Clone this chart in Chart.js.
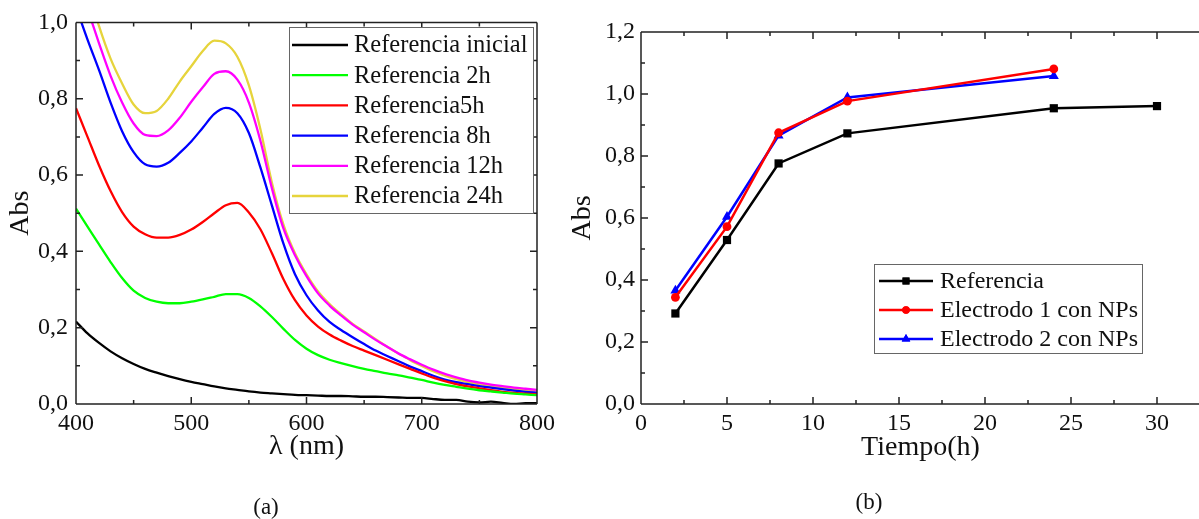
<!DOCTYPE html>
<html lang="es">
<head>
<meta charset="utf-8">
<title>Absorbancia</title>
<script src="https://cdn.jsdelivr.net/npm/chart.js@4.4.1/dist/chart.umd.min.js"></script>
<style>
  html, body { margin: 0; padding: 0; background: #fff; }
  body { width: 1199px; height: 519px; overflow: hidden; position: relative; font-family: "Liberation Serif", serif; }
  #specChart { position: absolute; left: 0; top: 0; }
  #timeChart { position: absolute; left: 560px; top: 0; }
  .caption { position: absolute; font-size: 23px; color: #111; transform: translate(-50%, -50%); }
</style>
</head>
<body>
<canvas id="specChart" width="560" height="519"></canvas>
<canvas id="timeChart" width="660" height="519"></canvas>
<div class="caption" style="left:266px; top:507px">(a)</div>
<div class="caption" style="left:869px; top:502px">(b)</div>
<script>
/* --------------- Spectra (a) --------------------- */
const wavelengths = [400, 410, 420, 430, 440, 450, 460, 470, 480, 490, 500, 510, 520, 530, 540, 550, 560, 570, 580, 590,
  600, 610, 620, 630, 640, 650, 660, 670, 680, 690, 700, 710, 720, 730, 740, 750, 760, 770, 780, 790, 800];

const absInicial = [0.216, 0.185, 0.160, 0.138, 0.120, 0.105, 0.092, 0.082, 0.073, 0.065, 0.058, 0.052, 0.046, 0.041,
  0.037, 0.033, 0.030, 0.028, 0.026, 0.024, 0.023, 0.022, 0.021, 0.021, 0.020, 0.019, 0.019, 0.018, 0.017, 0.016,
  0.016, 0.013, 0.011, 0.011, 0.006, 0.004, 0.006, 0.003, 0.000, 0.002, 0.002];
const abs2h = [0.512, 0.465, 0.418, 0.372, 0.330, 0.297, 0.278, 0.268, 0.264, 0.264, 0.268, 0.274, 0.281, 0.288,
  0.288, 0.278, 0.256, 0.228, 0.197, 0.168, 0.145, 0.128, 0.116, 0.107, 0.099, 0.092, 0.086, 0.080, 0.075, 0.069,
  0.063, 0.056, 0.050, 0.045, 0.040, 0.036, 0.033, 0.030, 0.027, 0.025, 0.023];
const abs5h = [0.775, 0.700, 0.625, 0.558, 0.503, 0.465, 0.445, 0.436, 0.436, 0.443, 0.457, 0.477, 0.500, 0.521,
  0.527, 0.502, 0.458, 0.395, 0.327, 0.272, 0.232, 0.203, 0.182, 0.166, 0.152, 0.140, 0.128, 0.116, 0.104, 0.092,
  0.080, 0.069, 0.060, 0.052, 0.046, 0.041, 0.036, 0.032, 0.029, 0.027, 0.025];
const abs8h = [1.040, 0.955, 0.875, 0.790, 0.715, 0.660, 0.628, 0.622, 0.632, 0.658, 0.688, 0.724, 0.760, 0.776,
  0.762, 0.710, 0.620, 0.520, 0.420, 0.340, 0.285, 0.245, 0.215, 0.194, 0.175, 0.157, 0.140, 0.126, 0.112, 0.098,
  0.086, 0.074, 0.064, 0.057, 0.052, 0.047, 0.043, 0.039, 0.035, 0.032, 0.030];
const abs12h = [1.120, 1.035, 0.945, 0.860, 0.790, 0.735, 0.705, 0.702, 0.717, 0.750, 0.792, 0.830, 0.865, 0.872,
  0.850, 0.790, 0.690, 0.565, 0.460, 0.390, 0.335, 0.290, 0.258, 0.232, 0.208, 0.188, 0.168, 0.150, 0.132, 0.117,
  0.103, 0.090, 0.079, 0.070, 0.062, 0.056, 0.051, 0.047, 0.043, 0.040, 0.037];
const abs24h = [1.200, 1.090, 0.990, 0.905, 0.840, 0.785, 0.762, 0.768, 0.800, 0.845, 0.885, 0.925, 0.952, 0.945,
  0.910, 0.835, 0.720, 0.580, 0.470, 0.395, 0.340, 0.295, 0.262, 0.235, 0.210, 0.190, 0.170, 0.150, 0.132, 0.115,
  0.100, 0.086, 0.074, 0.065, 0.058, 0.052, 0.047, 0.043, 0.040, 0.037, 0.034];

const spectraLabels = ["Referencia inicial", "Referencia 2h", "Referencia5h", "Referencia 8h", "Referencia 12h", "Referencia 24h"];
const spectraSeries = [absInicial, abs2h, abs5h, abs8h, abs12h, abs24h];
const spectraColors = ["#000000", "#00ff00", "#ff0000", "#0000ff", "#ff00ff", "#e6d43c"];

/* --------------- Absorbance vs time (b) --------------------- */
const hoursRef = [2, 5, 8, 12, 24, 30];
const absRef = [0.292, 0.529, 0.776, 0.873, 0.954, 0.961];
const hoursNP = [2, 5, 8, 12, 24];
const absElectrodo1 = [0.344, 0.572, 0.875, 0.977, 1.081];
const absElectrodo2 = [0.366, 0.604, 0.866, 0.989, 1.058];
const timeLabels = ["Referencia", "Electrodo 1 con NPs", "Electrodo 2 con NPs"];

/* --------------- Helpers --------------------- */
const SERIF = "'Liberation Serif', 'Times New Roman', serif";
const comma = (v) => Number(v).toFixed(1).replace(".", ",");
const toPoints = (xs, ys) => xs.map((x, i) => ({ x: x, y: ys[i] }));
const isMajor = (v, step) => Math.abs(v / step - Math.round(v / step)) < 1e-6;

// box around the plot with inward major/minor ticks
const framePlugin = {
  id: "frame",
  afterDatasetsDraw(chart, args, opts) {
    const { ctx, chartArea: a, scales } = chart;
    const x = scales.x, y = scales.y;
    ctx.save();
    ctx.strokeStyle = "#222";
    ctx.lineWidth = 1.5;
    ctx.beginPath();
    ctx.moveTo(a.left, a.top); ctx.lineTo(a.right, a.top);
    ctx.moveTo(a.left, a.bottom); ctx.lineTo(a.right, a.bottom);
    ctx.moveTo(a.left, a.top); ctx.lineTo(a.left, a.bottom);
    if (opts.right) { ctx.moveTo(a.right, a.top); ctx.lineTo(a.right, a.bottom); }
    for (let v = x.min; v <= x.max + 1e-9; v += opts.xMinor) {
      const px = x.getPixelForValue(v);
      const len = isMajor(v, opts.xMajor) ? 7 : 4;
      ctx.moveTo(px, a.bottom); ctx.lineTo(px, a.bottom - len);
      ctx.moveTo(px, a.top); ctx.lineTo(px, a.top + len);
    }
    for (let v = y.min; v <= y.max + 1e-9; v += opts.yMinor) {
      const py = y.getPixelForValue(v);
      const len = isMajor(v, opts.yMajor) ? 7 : 4;
      ctx.moveTo(a.left, py); ctx.lineTo(a.left + len, py);
      if (opts.right) { ctx.moveTo(a.right, py); ctx.lineTo(a.right - len, py); }
    }
    ctx.stroke();
    ctx.restore();
  }
};

// framed legend drawn at a fixed place inside the plot
const boxLegend = {
  id: "boxLegend",
  afterDraw(chart, args, opts) {
    const { ctx } = chart;
    ctx.save();
    ctx.fillStyle = "#fff";
    ctx.fillRect(opts.left, opts.top, opts.width, opts.height);
    ctx.strokeStyle = "#666";
    ctx.lineWidth = 1;
    ctx.strokeRect(opts.left + 0.5, opts.top + 0.5, opts.width, opts.height);
    ctx.font = opts.fontSize + "px " + SERIF;
    ctx.textBaseline = "middle";
    chart.data.datasets.forEach((ds, i) => {
      const cy = opts.top + opts.firstRow + i * opts.rowHeight;
      const x0 = opts.left + opts.lineStart, x1 = opts.left + opts.lineEnd;
      ctx.strokeStyle = ds.borderColor;
      ctx.lineWidth = ds.borderWidth;
      ctx.beginPath();
      ctx.moveTo(x0, cy); ctx.lineTo(x1, cy);
      ctx.stroke();
      if (opts.markers) {
        ctx.fillStyle = ds.backgroundColor;
        Chart.helpers.drawPoint(ctx, { pointStyle: ds.pointStyle, radius: ds.pointRadius * 0.85, borderWidth: 0, rotation: 0 }, (x0 + x1) / 2, cy);
        ctx.fill();
      }
      ctx.fillStyle = "#111";
      ctx.fillText(ds.label, opts.left + opts.textStart, cy + 1);
    });
    ctx.restore();
  }
};

/* --------------- Chart (a) --------------------- */
new Chart(document.getElementById("specChart"), {
  type: "line",
  plugins: [framePlugin, boxLegend],
  data: {
    datasets: spectraSeries.map((s, i) => ({
      label: spectraLabels[i],
      data: toPoints(wavelengths, s),
      borderColor: spectraColors[i],
      backgroundColor: spectraColors[i],
      borderWidth: 2.3,
      pointRadius: 0,
      cubicInterpolationMode: "monotone",
    })),
  },
  options: {
    responsive: false,
    devicePixelRatio: 1,
    animation: false,
    layout: { padding: { top: 22, right: 20, left: 0, bottom: 56 } },
    scales: {
      x: {
        type: "linear", min: 400, max: 800,
        grid: { display: false, drawTicks: false },
        border: { display: false },
        ticks: { stepSize: 100, padding: 5, color: "#111", font: { family: SERIF, size: 24 } },
        title: { display: true, text: "λ (nm)", color: "#111", font: { family: SERIF, size: 28 }, padding: { top: 0, bottom: 0 } },
        afterFit: (s) => { s.height = 59; },
      },
      y: {
        min: 0, max: 1,
        grid: { display: false, drawTicks: false },
        border: { display: false },
        ticks: { stepSize: 0.2, padding: 8, color: "#111", font: { family: SERIF, size: 24 }, callback: comma },
        title: { display: true, text: "Abs", color: "#111", font: { family: SERIF, size: 28 }, padding: { top: 4, bottom: 0 } },
        afterFit: (s) => { s.width = 76; },
      },
    },
    plugins: {
      legend: { display: false },
      tooltip: { enabled: false },
      frame: { xMajor: 100, xMinor: 50, yMajor: 0.2, yMinor: 0.1, right: true },
      boxLegend: { left: 289, top: 27, width: 244, height: 186, firstRow: 18, rowHeight: 30.2, lineStart: 3, lineEnd: 59, textStart: 65, fontSize: 24.5, markers: false },
    },
  },
});

/* --------------- Chart (b) --------------------- */
new Chart(document.getElementById("timeChart"), {
  type: "line",
  plugins: [framePlugin, boxLegend],
  data: {
    datasets: [
      { label: timeLabels[0], data: toPoints(hoursRef, absRef), borderColor: "#000000", backgroundColor: "#000000",
        borderWidth: 2.5, pointStyle: "rect", pointRadius: 5.8, pointBorderWidth: 0 },
      { label: timeLabels[1], data: toPoints(hoursNP, absElectrodo1), borderColor: "#ff0000", backgroundColor: "#ff0000",
        borderWidth: 2.5, pointStyle: "circle", pointRadius: 4.4, pointBorderWidth: 0 },
      { label: timeLabels[2], data: toPoints(hoursNP, absElectrodo2), borderColor: "#0000ff", backgroundColor: "#0000ff",
        borderWidth: 2.5, pointStyle: "triangle", pointRadius: 5.8, pointBorderWidth: 0 },
    ],
  },
  options: {
    responsive: false,
    devicePixelRatio: 1,
    animation: false,
    layout: { padding: { top: 32, right: 20, left: 0, bottom: 55 } },
    scales: {
      x: {
        type: "linear", min: 0, max: 32.5,
        grid: { display: false, drawTicks: false },
        border: { display: false },
        ticks: { stepSize: 5, includeBounds: false, padding: 5, color: "#111", font: { family: SERIF, size: 24 } },
        title: { display: true, text: "Tiempo(h)", color: "#111", font: { family: SERIF, size: 28 }, padding: { top: 0, bottom: 0 } },
        afterFit: (s) => { s.height = 60; },
      },
      y: {
        min: 0, max: 1.2,
        grid: { display: false, drawTicks: false },
        border: { display: false },
        ticks: { stepSize: 0.2, padding: 6, color: "#111", font: { family: SERIF, size: 24 }, callback: comma },
        title: { display: true, text: "Abs", color: "#111", font: { family: SERIF, size: 28 }, padding: { top: 6, bottom: 0 } },
        afterFit: (s) => { s.width = 81; },
      },
    },
    plugins: {
      legend: { display: false },
      tooltip: { enabled: false },
      frame: { xMajor: 5, xMinor: 2.5, yMajor: 0.2, yMinor: 0.1, right: false },
      boxLegend: { left: 314, top: 264, width: 268, height: 89, firstRow: 17, rowHeight: 29, lineStart: 5, lineEnd: 59, textStart: 66, fontSize: 24, markers: true },
    },
  },
});
</script>
</body>
</html>
